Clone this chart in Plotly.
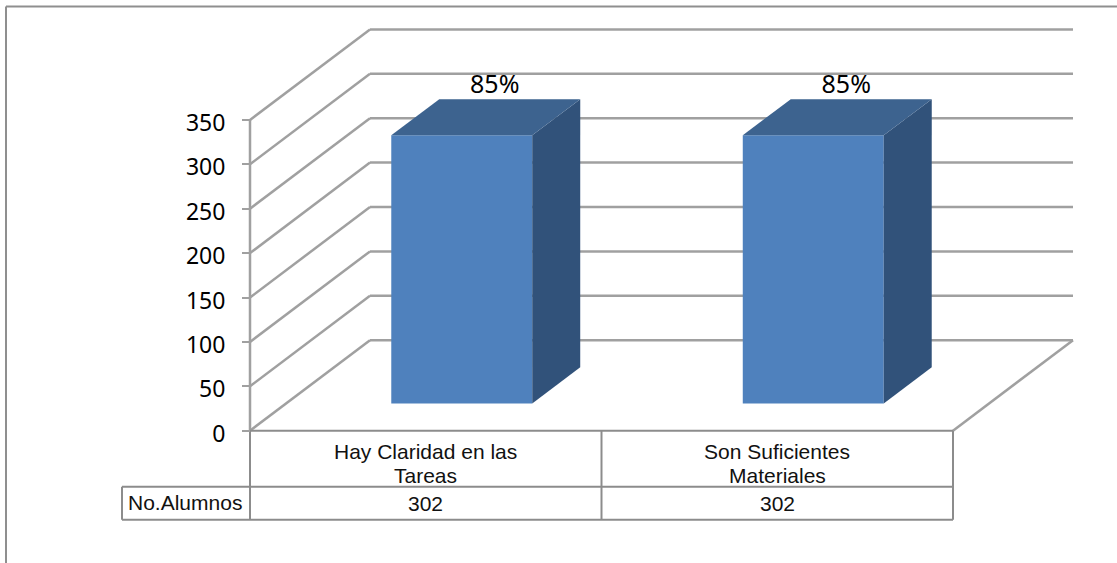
import plotly.graph_objects as go

# ---- data ----
category_lines = [["Hay Claridad en las", "Tareas"], ["Son Suficientes", "Materiales"]]
values = [302, 302]
percent_labels = ["85%", "85%"]
y_ticks = [0, 50, 100, 150, 200, 250, 300, 350]
row_label = "No.Alumnos"

# ---- geometry (style) ----
W, H = 1117, 563
AX_X, AX_Y = 250.0, 430.7
CAT_PX = 351.5
VAL_PX = 0.888
DEPTH_DX, DEPTH_DY = 120.0, 90.5
BAR_W = 0.401
D_FRONT, D_BACK = 0.30, 0.70
GRID = "#A0A0A0"
TABLE = "#8C8C8C"


def X(px):
    return (px - AX_X) / CAT_PX


def Y(py):
    return (AX_Y - py) / VAL_PX


DX = DEPTH_DX / CAT_PX
DY = DEPTH_DY / VAL_PX
centers = [i + 0.5 for i in range(len(category_lines))]


def proj(x, v, d):
    return x + DX * d, v + DY * d


fig = go.Figure()

# bars: front face + side + top
x_front = [proj(c, 0, D_FRONT)[0] for c in centers]
base = proj(0, 0, D_FRONT)[1]
fig.add_trace(go.Bar(x=x_front, y=values, base=[base] * len(values), width=BAR_W,
                     marker=dict(color="#4F81BD", line=dict(width=0)),
                     hoverinfo="skip", showlegend=False))
for c, v in zip(centers, values):
    l, r = c - BAR_W / 2, c + BAR_W / 2
    pts = [proj(r, 0, D_FRONT), proj(r, 0, D_BACK), proj(r, v, D_BACK), proj(r, v, D_FRONT)]
    fig.add_trace(go.Scatter(x=[p[0] for p in pts] + [pts[0][0]], y=[p[1] for p in pts] + [pts[0][1]],
                             mode="lines", fill="toself", fillcolor="#31527A", line=dict(width=0),
                             hoverinfo="skip", showlegend=False))
    pts = [proj(l, v, D_FRONT), proj(l, v, D_BACK), proj(r, v, D_BACK), proj(r, v, D_FRONT)]
    fig.add_trace(go.Scatter(x=[p[0] for p in pts] + [pts[0][0]], y=[p[1] for p in pts] + [pts[0][1]],
                             mode="lines", fill="toself", fillcolor="#3D638F", line=dict(width=0),
                             hoverinfo="skip", showlegend=False))

# percent labels
lx, ly = [], []
for c, v in zip(centers, values):
    p = proj(c - 15 / CAT_PX, v, D_BACK)
    lx.append(p[0])
    ly.append(p[1])
fig.add_trace(go.Scatter(x=lx, y=ly, mode="text", text=percent_labels, textposition="top center",
                         textfont=dict(family="Noto Sans", size=25, color="#000"),
                         hoverinfo="skip", showlegend=False))

# gridlines on the walls, floor, table
shapes = []


def line(x0, y0, x1, y1, color=GRID, width=2.5):
    shapes.append(dict(type="line", xref="x", yref="y", x0=x0, y0=y0, x1=x1, y1=y1,
                       layer="below", line=dict(color=color, width=width)))


n = len(category_lines)
for t in y_ticks:
    bx0, by = proj(0, t, 1)
    bx1, _ = proj(n, t, 1)
    line(0, t, bx0, by)
    line(bx0, by, bx1, by)
line(n, 0, *proj(n, 0, 1))
line(0, 0, 0, max(y_ticks))

# outer frame
line(X(6), Y(563), X(6), Y(6.5), "#8F8F8F", 2)
line(X(6), Y(6.5), X(1117), Y(6.5), "#8F8F8F", 2)

# data table
row1, row2 = Y(486.7), Y(519.7)
line(0, 0, n, 0, TABLE, 2)
line(X(122), row1, n, row1, TABLE, 2)
line(X(122), row2, n, row2, TABLE, 2)
line(X(122), row1, X(122), row2, TABLE, 2)
for i in range(n + 1):
    line(i, 0, i, row2, TABLE, 2)

table_font = dict(family="Liberation Sans", size=21, color="#111")
annotations = [dict(x=X(185), y=Y(502.5), xref="x", yref="y", text=row_label,
                    showarrow=False, font=table_font)]
for c, v, lines in zip(centers, values, category_lines):
    annotations.append(dict(x=c, y=Y(503), xref="x", yref="y", text=str(v), showarrow=False,
                            font=table_font))
    for py, txt in zip([451, 475.5], lines):
        annotations.append(dict(x=c, y=Y(py), xref="x", yref="y", text=txt, showarrow=False,
                                font=table_font))

fig.update_layout(
    width=W, height=H, margin=dict(l=0, r=0, t=0, b=0),
    paper_bgcolor="white", plot_bgcolor="white", showlegend=False,
    shapes=shapes, annotations=annotations,
    xaxis=dict(range=[X(0), X(W)], domain=[0, 1], anchor="free", position=(H - AX_Y) / H,
               showticklabels=False, ticks="", showgrid=False, zeroline=False, showline=False),
    yaxis=dict(range=[Y(H), Y(0)], domain=[0, 1], anchor="free", position=AX_X / W,
               tickvals=y_ticks, ticks="outside", ticklen=8, tickcolor=GRID, tickwidth=2,
               showgrid=False, zeroline=False, showline=False,
               ticklabelstandoff=12, ticklabelshift=3,
               tickfont=dict(family="Noto Sans", size=23, color="#000")),
)

fig.write_html("out.html", config=dict(displayModeBar=False),
               post_script="document.body.style.margin='0';")
